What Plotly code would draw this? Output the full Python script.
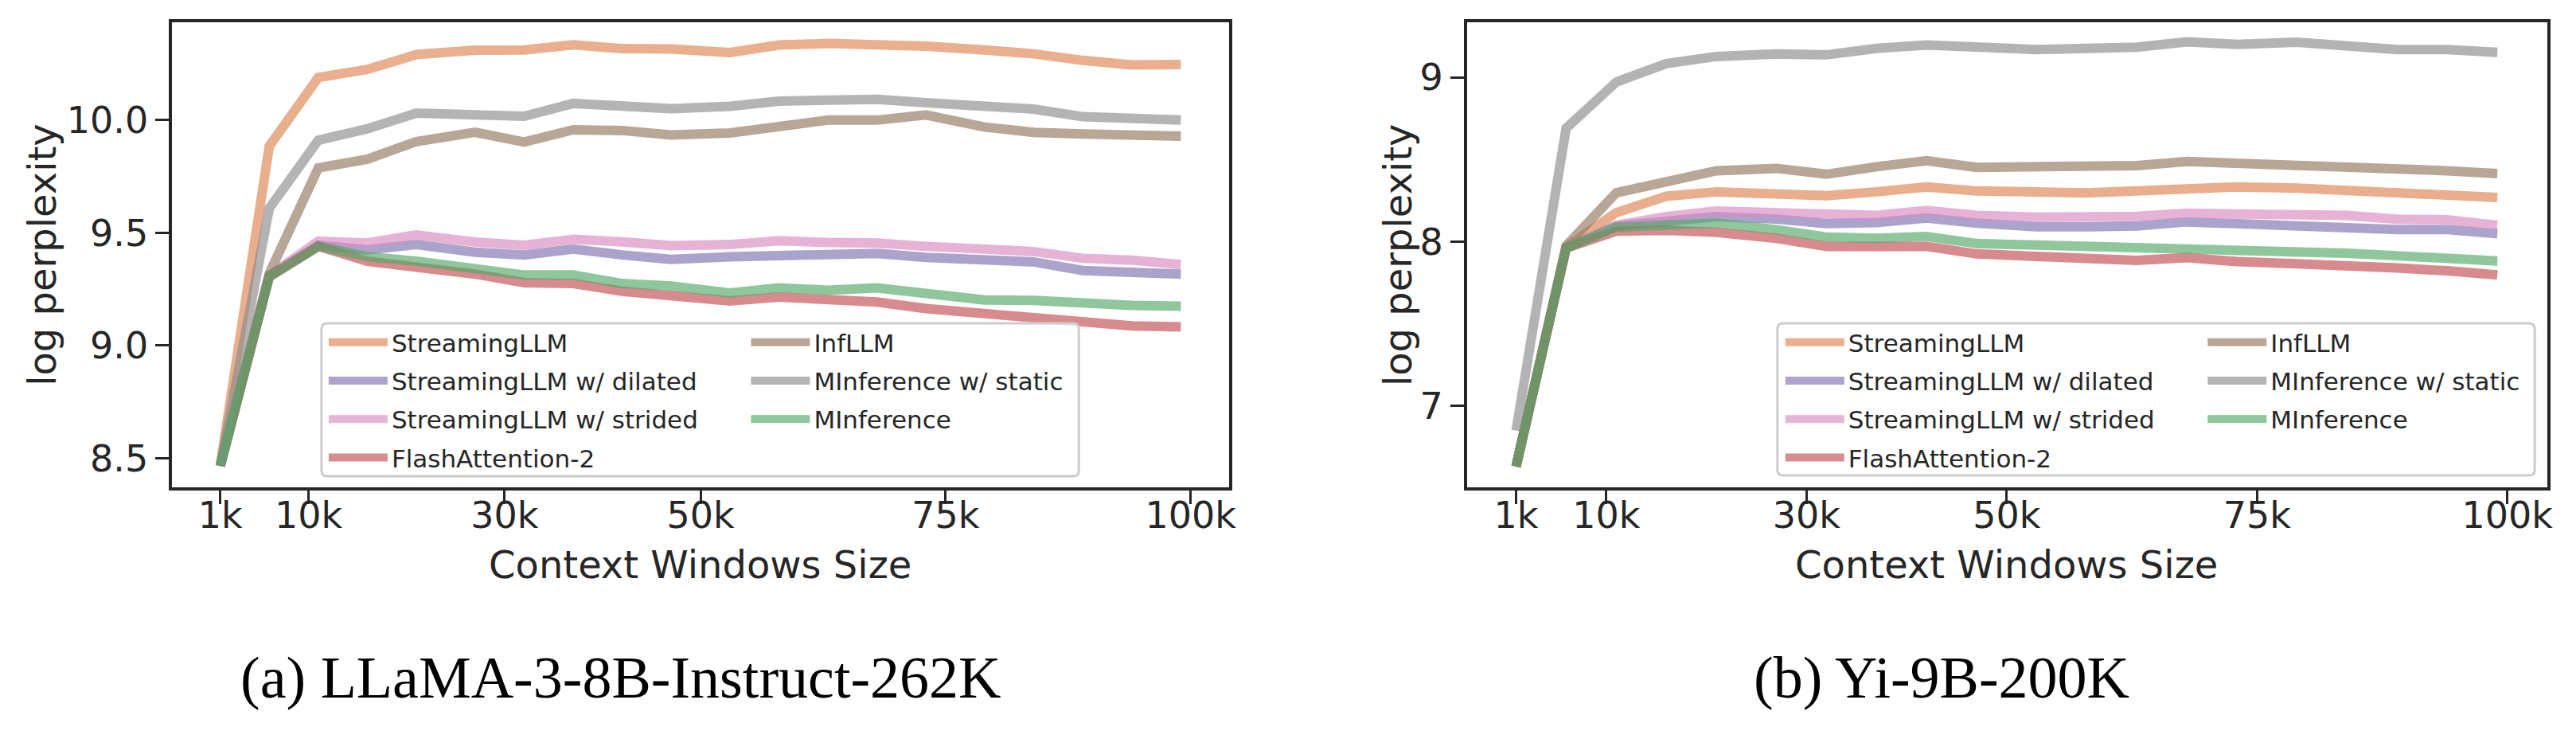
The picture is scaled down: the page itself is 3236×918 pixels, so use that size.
import plotly.graph_objects as go
from plotly.subplots import make_subplots

W, H = 3236, 918

# context window sizes (k tokens)
ctx_k = [1, 6, 11, 16, 21, 27, 32, 37, 42, 47, 53, 58, 63, 68, 73, 79, 84, 89, 94, 99]
tick_vals = [1, 10, 30, 50, 75, 100]
tick_text = ["1k", "10k", "30k", "50k", "75k", "100k"]

# (a) LLaMA-3-8B-Instruct-262K
streaming_a = [8.466, 9.885, 10.189, 10.225, 10.291, 10.31, 10.311, 10.334, 10.317, 10.316,
               10.30, 10.333, 10.34, 10.339, 10.328, 10.311, 10.294, 10.265, 10.245, 10.247]
dilated_a = [8.466, 9.31, 9.445, 9.425, 9.448, 9.414, 9.402, 9.428, 9.402, 9.382,
             9.394, 9.399, 9.399, 9.409, 9.391, 9.379, 9.371, 9.333, 9.325, 9.317]
strided_a = [8.466, 9.31, 9.463, 9.455, 9.491, 9.459, 9.445, 9.471, 9.46, 9.443,
             9.448, 9.465, 9.457, 9.455, 9.44, 9.428, 9.417, 9.387, 9.379, 9.359]
flash_a = [8.466, 9.305, 9.44, 9.374, 9.348, 9.317, 9.279, 9.275, 9.241, 9.221,
           9.198, 9.215, 9.206, 9.193, 9.164, 9.141, 9.123, 9.11, 9.087, 9.083]
infllm_a = [8.466, 9.32, 9.788, 9.827, 9.905, 9.946, 9.903, 9.957, 9.954, 9.934,
            9.943, 9.969, 10.0, 10.0, 10.023, 9.969, 9.946, 9.939, 9.929, 9.929]
static_a = [8.466, 9.609, 9.911, 9.962, 10.031, 10.023, 10.017, 10.074, 10.058, 10.051,
            10.061, 10.084, 10.089, 10.092, 10.077, 10.066, 10.049, 10.015, 10.008, 10.0]
minf_a = [8.466, 9.305, 9.44, 9.394, 9.374, 9.344, 9.313, 9.313, 9.275, 9.264,
          9.233, 9.256, 9.245, 9.256, 9.23, 9.202, 9.2, 9.184, 9.178, 9.175]

# (b) Yi-9B-200K
streaming_b = [6.632, 7.968, 8.177, 8.277, 8.304, 8.291, 8.281, 8.304, 8.334, 8.309,
               8.302, 8.298, 8.309, 8.326, 8.334, 8.326, 8.313, 8.304, 8.291, 8.27]
dilated_b = [6.632, 7.962, 8.096, 8.121, 8.153, 8.138, 8.111, 8.117, 8.145, 8.113,
             8.091, 8.091, 8.096, 8.121, 8.113, 8.106, 8.085, 8.074, 8.074, 8.049]
strided_b = [6.632, 7.962, 8.1, 8.153, 8.187, 8.177, 8.155, 8.16, 8.191, 8.16,
             8.149, 8.149, 8.155, 8.174, 8.174, 8.17, 8.16, 8.138, 8.134, 8.1]
flash_b = [6.632, 7.962, 8.064, 8.07, 8.057, 8.021, 7.972, 7.968, 7.972, 7.926,
           7.911, 7.9, 7.887, 7.904, 7.879, 7.866, 7.857, 7.84, 7.823, 7.798]
infllm_b = [6.632, 7.975, 8.298, 8.362, 8.432, 8.447, 8.411, 8.457, 8.494, 8.453,
            8.462, 8.462, 8.464, 8.489, 8.479, 8.474, 8.457, 8.44, 8.432, 8.415]
static_b = [6.851, 8.691, 8.972, 9.085, 9.128, 9.143, 9.138, 9.177, 9.198, 9.185,
            9.17, 9.177, 9.185, 9.217, 9.202, 9.215, 9.194, 9.17, 9.17, 9.153]
minf_b = [6.632, 7.962, 8.089, 8.106, 8.113, 8.074, 8.028, 8.021, 8.032, 7.989,
          7.979, 7.972, 7.964, 7.968, 7.957, 7.936, 7.93, 7.915, 7.894, 7.883]

methods = ["StreamingLLM", "StreamingLLM w/ dilated", "StreamingLLM w/ strided", "FlashAttention-2",
           "InfLLM", "MInference w/ static", "MInference"]
colors = ["#DD8452", "#8172B3", "#DA8BC3", "#C44E52", "#937860", "#8C8C8C", "#55A868"]
series_a = [streaming_a, dilated_a, strided_a, flash_a, infllm_a, static_a, minf_a]
series_b = [streaming_b, dilated_b, strided_b, flash_b, infllm_b, static_b, minf_b]

TXT = "#262626"
FONT = "DejaVu Sans"


def px(x):
    return x / W


def py(y):
    return 1 - y / H


fig = make_subplots(rows=1, cols=2)

# first four go in the left legend column, the rest in the right one
for col, series, legs in [(1, series_a, ("legend", "legend2")), (2, series_b, ("legend3", "legend4"))]:
    for i, (name, c, ys) in enumerate(zip(methods, colors, series)):
        fig.add_trace(
            go.Scatter(
                x=ctx_k, y=ys, mode="lines", name=name,
                line=dict(color=c, width=12),
                opacity=0.65,
                legend=legs[0] if i < 4 else legs[1],
                legendgroup=f"{col}_{i}",
            ),
            row=1, col=col,
        )

fig.update_xaxes(
    tickvals=tick_vals, ticktext=tick_text,
    showline=True, mirror=True, linecolor=TXT, linewidth=4,
    ticks="outside", ticklen=17, tickwidth=3, tickcolor=TXT,
    showgrid=False, zeroline=False, ticklabelstandoff=-25,
    tickfont=dict(size=46, color=TXT, family=FONT),
)
fig.update_yaxes(
    showline=True, mirror=True, linecolor=TXT, linewidth=4,
    ticks="outside", ticklen=17, tickwidth=3, tickcolor=TXT,
    showgrid=False, zeroline=False,
    tickfont=dict(size=46, color=TXT, family=FONT),
)
fig.update_xaxes(range=[-3.9, 103.9], domain=[px(209), px(1540)], row=1, col=1)
fig.update_xaxes(range=[-3.9, 104.0], domain=[px(1840), px(3201)], row=1, col=2)
fig.update_yaxes(range=[8.371, 10.434], domain=[py(604), py(20)], tickvals=[8.5, 9.0, 9.5, 10.0],
                 tickformat=".1f", row=1, col=1)
fig.update_yaxes(range=[6.505, 9.336], domain=[py(604), py(20)], tickvals=[7, 8, 9], row=1, col=2)

# axis titles
title_font = dict(size=48, color=TXT, family=FONT)
for xc in [874, 2520]:
    fig.add_annotation(text="Context Windows Size", x=px(xc), y=py(701), xref="paper", yref="paper",
                       xanchor="center", yanchor="middle", showarrow=False, font=title_font)
for xc in [45, 1753]:
    fig.add_annotation(text="log perplexity", x=px(xc), y=py(312), xref="paper", yref="paper",
                       xanchor="center", yanchor="middle", showarrow=False, textangle=-90,
                       font=title_font)

legend_style = dict(
    font=dict(size=31, color=TXT, family=FONT),
    bgcolor="rgba(0,0,0,0)", borderwidth=0,
    xanchor="left", yanchor="top", itemwidth=74,
    tracegroupgap=5, traceorder="grouped",
)
fig.update_layout(
    legend=dict(x=px(401), y=py(395), **legend_style),
    legend2=dict(x=px(933), y=py(395), **legend_style),
    legend3=dict(x=px(2236), y=py(395), **legend_style),
    legend4=dict(x=px(2768), y=py(395), **legend_style),
)


def rounded_box(x0, y0, x1, y1, r=7):
    # pixel box -> paper path with small rounded corners
    rx, ry = r / W, r / H
    a, b, c, d = px(x0), py(y1), px(x1), py(y0)
    return (f"M{a + rx},{b} L{c - rx},{b} Q{c},{b} {c},{b + ry} L{c},{d - ry} Q{c},{d} {c - rx},{d} "
            f"L{a + rx},{d} Q{a},{d} {a},{d - ry} L{a},{b + ry} Q{a},{b} {a + rx},{b} Z")


for box in [(397, 398, 1351, 590), (2231, 398, 3185, 589)]:
    fig.add_shape(type="path", path=rounded_box(*box), xref="paper", yref="paper",
                  line=dict(color="#cccccc", width=3), fillcolor="rgba(255,255,255,0.8)", layer="above")

for text, xc in [("(a) LLaMA-3-8B-Instruct-262K", 774), ("(b) Yi-9B-200K", 2438)]:
    fig.add_annotation(text=text, x=px(xc), y=py(843), xref="paper", yref="paper",
                       xanchor="center", yanchor="middle", showarrow=False,
                       font=dict(size=74, color="black", family="Liberation Serif"))

fig.update_layout(
    width=W, height=H,
    margin=dict(l=0, r=0, t=0, b=0),
    paper_bgcolor="white", plot_bgcolor="white",
    font=dict(family=FONT, color=TXT),
    showlegend=True,
)

fig.write_html("out.html")
